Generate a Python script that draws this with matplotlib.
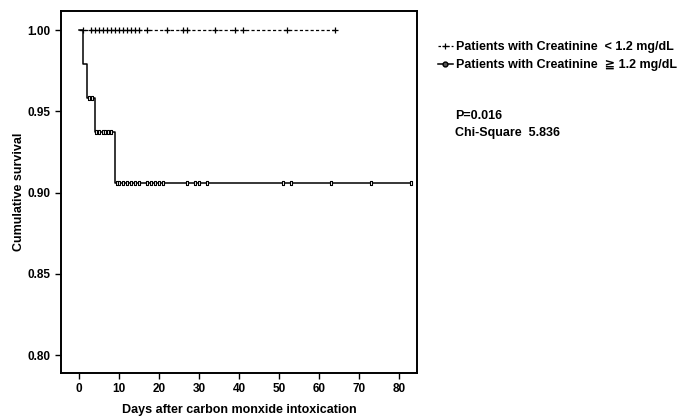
import numpy as np
import matplotlib
matplotlib.use('Agg')
import matplotlib.pyplot as plt
from matplotlib.lines import Line2D

plt.rcParams['font.family'] = ['Liberation Sans', 'DejaVu Sans']
plt.rcParams['font.weight'] = 'bold'

# Grupo 1: creatinina < 1.2 (sin eventos, solo censurados)
low_step_t = [0, 64]
low_step_s = [1.0, 1.0]
low_cens_t = [1, 3, 4, 5, 6, 7, 8, 9, 10, 11, 12, 13, 14, 15, 17, 22, 26, 27, 34, 39, 41, 52, 64]

# Grupo 2: creatinina >= 1.2
high_step_t = [0, 1, 2, 4, 9, 83]
high_step_s = [1.0, 0.979, 0.958, 0.9375, 0.906, 0.906]
high_cens_t = [2.4, 3.2, 4.3, 5, 6, 6.6, 7.3, 8,
               9.4, 10, 11, 12, 13, 14, 15, 17, 18, 19, 20, 21,
               27, 29, 30, 32, 51, 53, 63, 73, 83]

x_ticks = [0, 10, 20, 30, 40, 50, 60, 70, 80]
y_ticks = [0.80, 0.85, 0.90, 0.95, 1.00]


def surv_at(t, step_t, step_s):
    idx = np.searchsorted(step_t, t, side='right') - 1
    return np.array(step_s)[idx]


rect = [(-0.45, -1), (0.45, -1), (0.45, 1), (-0.45, 1), (-0.45, -1)]

fig = plt.figure(figsize=(6.78, 4.16), dpi=100)
ax = fig.add_axes([0.090, 0.1034, 0.525, 0.8702])

ax.step(low_step_t, low_step_s, where='post', color='black', lw=0.9,
        linestyle=(0, (2.5, 1.8)))
ax.plot(low_cens_t, surv_at(np.array(low_cens_t), low_step_t, low_step_s),
        linestyle='none', marker='+', ms=5, mew=0.9, color='black')

ax.step(high_step_t, high_step_s, where='post', color='black', lw=1.1)
ax.plot(high_cens_t, surv_at(np.array(high_cens_t), high_step_t, high_step_s),
        linestyle='none', marker=rect, ms=3.2, mew=0.8, mfc='white', mec='black')

ax.set_xlim(-4.5, 84.5)
ax.set_ylim(0.789, 1.0117)
ax.set_xticks(x_ticks)
ax.set_yticks(y_ticks)
ax.set_yticklabels(['%.2f' % v for v in y_ticks])
ax.tick_params(direction='out', length=4, width=1, labelsize=8.5)
for s in ax.spines.values():
    s.set_linewidth(1.4)

ax.set_xlabel('Days after carbon monxide intoxication', fontsize=9, fontweight='bold', labelpad=6)
ax.set_ylabel('Cumulative survival', fontsize=9, fontweight='bold', labelpad=2)

handles = [
    Line2D([], [], color='black', lw=0.9, linestyle=(0, (2, 1.5)), marker='+', ms=5, mew=0.9),
    Line2D([], [], color='black', lw=1.1, marker='o', ms=3.5, mfc='#555555', mec='black'),
]
labels = ['Patients with Creatinine  < 1.2 mg/dL', 'Patients with Creatinine  \u2267 1.2 mg/dL']
fig.legend(handles, labels, loc='upper left', bbox_to_anchor=(0.629, 0.928),
           frameon=False, handlelength=1.2, handletextpad=0.25, labelspacing=0.5,
           prop={'size': 9, 'weight': 'bold'})

fig.text(0.671, 0.722, 'P=0.016', fontsize=9, fontweight='bold', va='center')
fig.text(0.671, 0.681, 'Chi-Square  5.836', fontsize=9, fontweight='bold', va='center')

fig.savefig('out.png', dpi=100)
